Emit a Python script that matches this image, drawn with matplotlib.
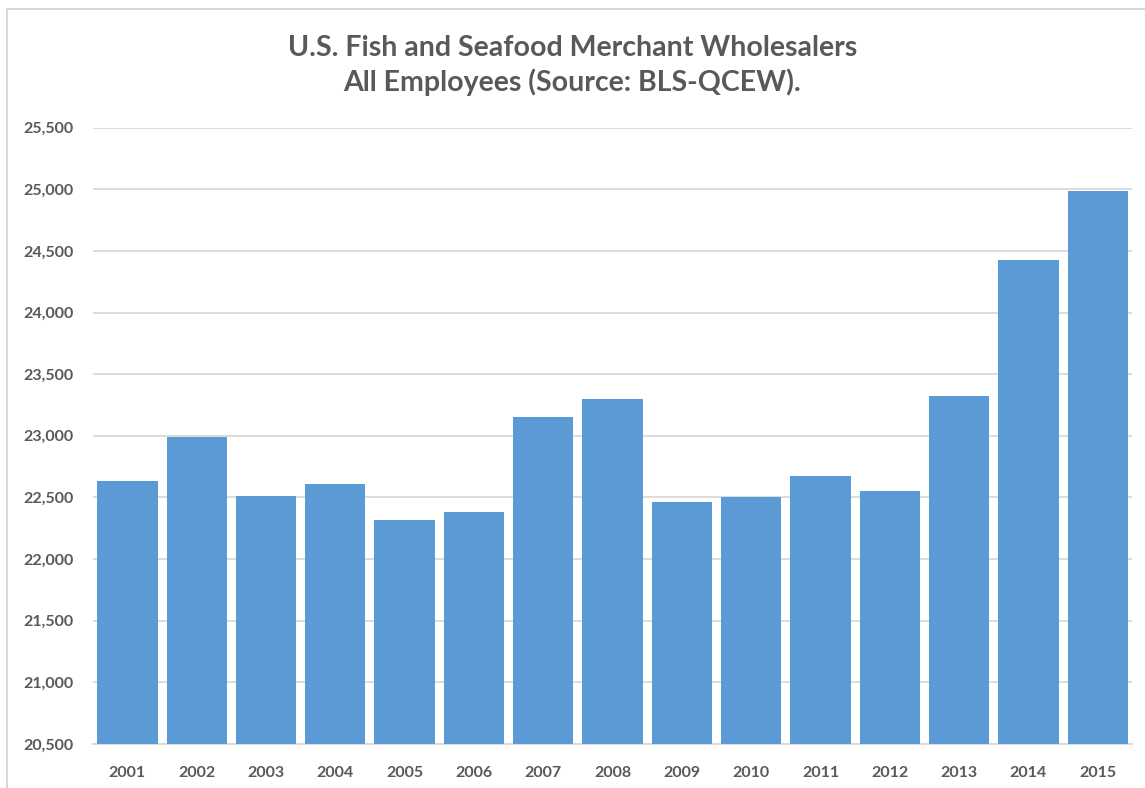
import numpy as np
import matplotlib.pyplot as plt
from matplotlib.patches import Rectangle
from matplotlib.ticker import FuncFormatter, MultipleLocator

# Employees by year
YEARS = ["2001", "2002", "2003", "2004", "2005", "2006", "2007", "2008",
         "2009", "2010", "2011", "2012", "2013", "2014", "2015"]
EMPLOYEES = [22630, 22990, 22515, 22605, 22315, 22380, 23155, 23300,
             22460, 22505, 22670, 22555, 23320, 24430, 24990]

TITLE = "U.S. Fish and Seafood Merchant Wholesalers\nAll Employees (Source: BLS-QCEW)."

BAR_COLOR = "#5b9bd5"
TEXT_COLOR = "#595959"
GRID_COLOR = "#d9d9d9"

plt.rcParams["font.family"] = ["Lato", "DejaVu Sans"]

fig = plt.figure(figsize=(11.45, 7.88), dpi=100)
ax = fig.add_axes([0.081, 0.056, 0.908, 0.782])

x = np.arange(len(YEARS))
ax.bar(x, np.array(EMPLOYEES) - 20500, bottom=20500, width=0.87,
       color=BAR_COLOR, zorder=3)

ax.set_ylim(20500, 25500)
ax.set_xlim(-0.5, len(YEARS) - 0.5)
ax.yaxis.set_major_locator(MultipleLocator(500))
ax.yaxis.set_major_formatter(FuncFormatter(lambda v, _: f"{int(v):,}"))
ax.set_xticks(x)
ax.set_xticklabels(YEARS)

ax.grid(axis="y", color=GRID_COLOR, linewidth=1.3, zorder=0)
for side in ["top", "right", "left"]:
    ax.spines[side].set_visible(False)
ax.spines["bottom"].set_color(GRID_COLOR)
ax.spines["bottom"].set_linewidth(1.3)
ax.tick_params(length=0, colors=TEXT_COLOR, labelsize=11.5)
ax.tick_params(axis="y", pad=14)
ax.tick_params(axis="x", pad=16)
for lab in ax.get_xticklabels() + ax.get_yticklabels():
    lab.set_fontweight("bold")

fig.text(0.5, 0.917, TITLE, ha="center", va="center", fontsize=20.5,
         fontweight="bold", color=TEXT_COLOR, linespacing=1.3)

# thin outer frame like the original screenshot
fig.patches.append(Rectangle((0.006, -0.01), 1.2, 0.998, transform=fig.transFigure,
                             fill=False, edgecolor="#d0d0d0", linewidth=1.2))

fig.savefig("out.png", dpi=100)
